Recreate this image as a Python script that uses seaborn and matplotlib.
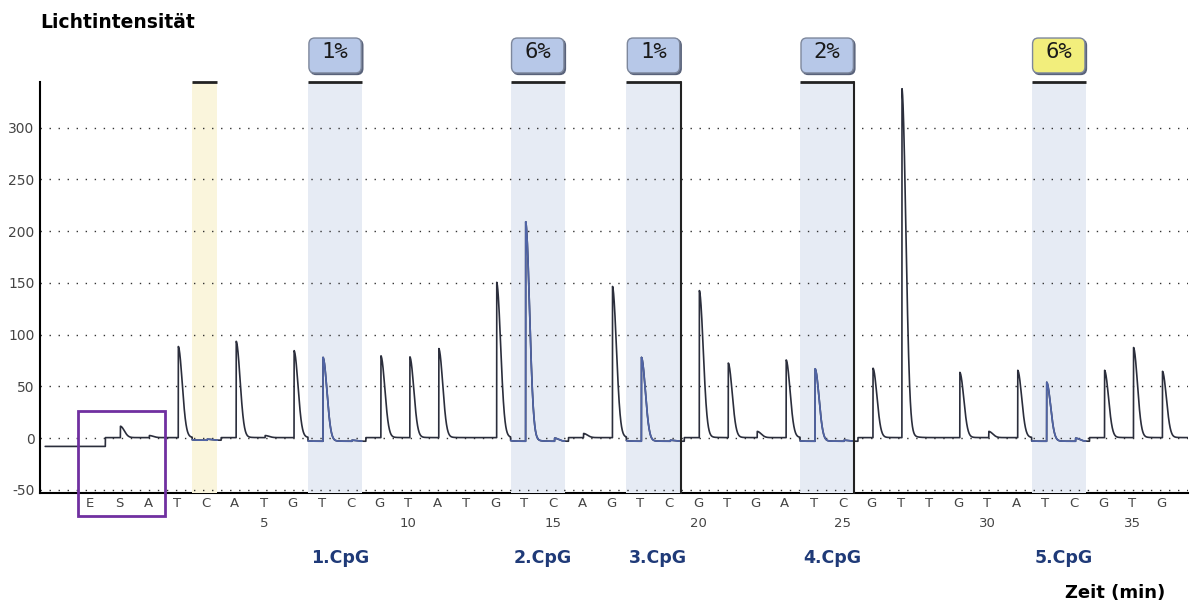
import numpy as np
import matplotlib
matplotlib.use("Agg")
import matplotlib.pyplot as plt
import matplotlib.transforms as mtransforms
from matplotlib.patches import FancyBboxPatch, Rectangle
import seaborn as sns

# ---------------- data ----------------
dispensations = ["E", "S", "A", "T", "C", "A", "T", "G", "T", "C", "G", "T", "A",
                 "T", "G", "T", "C", "A", "G", "T", "C", "G", "T", "G", "A", "T",
                 "C", "G", "T", "T", "G", "T", "A", "T", "C", "G", "T", "G"]
disp_positions = list(range(-1, 37))
peak_heights = [0, 11, 2, 88, 1, 93, 2, 84, 81, 1, 79, 78, 86,
                0, 150, 212, 3, 4, 146, 81, 1, 142, 72, 6, 75, 70,
                1, 67, 337, 0, 63, 6, 65, 57, 3, 65, 87, 64]
baselines = [-8, 0.5, 0.5, 0.5, -2, 0.5, 0.5, 0.5, -3, -3, 0.5, 0.5, 0.5,
             0.5, 0.5, -3, -3, 0.5, 0.5, -3, -3, 0.5, 0.5, 0.5, 0.5, -3,
             -3, 0.5, 0.5, 0.5, 0.5, 0.5, 0.5, -3, -3, 0.5, 0.5, 0.5]
number_ticks = [5, 10, 15, 20, 25, 30, 35]
y_ticks = [-50, 0, 50, 100, 150, 200, 250, 300]

control_pos = 3
cpg_names = ["1.CpG", "2.CpG", "3.CpG", "4.CpG", "5.CpG"]
cpg_start = [7, 14, 18, 24, 32]
cpg_end = [8, 15, 19, 25, 33]
methylation = [1, 6, 1, 2, 6]
badge_colors = ["#b7c8e8", "#b7c8e8", "#b7c8e8", "#b7c8e8", "#f2ee7c"]
bracket_right = [False, False, True, True, False]

# ---------------- figure ----------------
sns.set_style("white")
plt.rcParams["font.family"] = ["DejaVu Sans"]
plt.rcParams["axes.unicode_minus"] = False

fig = plt.figure(figsize=(11.92, 6.10), dpi=100)
ax = fig.add_axes([40 / 1192, 117 / 610, 1148 / 1192, 411 / 610])
ax.set_xlim(-2.73, 36.93)
ax.set_ylim(-53, 344)

blend = mtransforms.blended_transform_factory(ax.transData, ax.transAxes)

L_OFF, R_OFF = 0.47, 0.40

# shaded areas
ax.axvspan(control_pos - L_OFF, control_pos + R_OFF, color="#faf5dc", lw=0, zorder=1)
ax.plot([control_pos - L_OFF, control_pos + R_OFF], [1, 1], transform=blend,
        color="#222222", lw=2, clip_on=False, solid_capstyle="butt", zorder=4)

for s, e, m, bc, br in zip(cpg_start, cpg_end, methylation, badge_colors, bracket_right):
    l, r = s - L_OFF, e + R_OFF
    ax.axvspan(l, r, color="#e6ebf4", lw=0, zorder=1)
    ax.plot([l, r], [1, 1], transform=blend, color="#222222", lw=2,
            clip_on=False, solid_capstyle="butt", zorder=4)
    if br:
        ax.plot([r, r], [0, 1], transform=blend, color="#222222", lw=1.5,
                clip_on=False, zorder=4)
    # badge shadow + badge
    shadow_tr = mtransforms.offset_copy(blend, fig=fig, x=1.5, y=-1.5, units="dots")
    for tr, fc, ec in [(shadow_tr, "#59627a", "#59627a"), (blend, bc, "#7d879c")]:
        p = FancyBboxPatch((l + 0.03, 1.022), (r - l) - 0.06, 0.085,
                           boxstyle="round,pad=0,rounding_size=0.2",
                           mutation_aspect=0.073, transform=tr,
                           facecolor=fc, edgecolor=ec, lw=1, clip_on=False, zorder=5)
        ax.add_patch(p)
    ax.text((l + r) / 2, 1.058, f"{m}%", transform=blend, ha="center", va="baseline",
            family="DejaVu Sans Mono", fontsize=16, color="#1a1a1a", zorder=6,
            clip_on=False)

# dotted grid
for yv in y_ticks:
    ax.axhline(yv, color="#333333", lw=1.0, ls=(0, (1, 5.5)), zorder=1.5)

# ---------------- trace ----------------
x = np.arange(-2.55, 36.93, 0.004)
base = np.full_like(x, float(baselines[0]))
signal = np.zeros_like(x)
for p, h, b in zip(disp_positions, peak_heights, baselines):
    base[x >= p - L_OFF] = b
    d = x - (p + 0.05)
    k = np.where(d >= 0, 0.93 * np.exp(-(np.clip(d, 0, None) / 0.19) ** 2)
                 + 0.07 * np.exp(-np.clip(d, 0, None) / 0.15), 0.0)
    signal += h * k
y = base + signal

sns.lineplot(x=x, y=y, ax=ax, color="#2b2e3c", lw=1.2, zorder=3,
             estimator=None, sort=False)
regions = [(control_pos, control_pos)] + list(zip(cpg_start, cpg_end))
for s, e in regions:
    msk = (x >= s - L_OFF) & (x <= e + R_OFF)
    sns.lineplot(x=x[msk], y=y[msk], ax=ax, color="#5064a6", lw=1.2, zorder=3.2,
                 estimator=None, sort=False)

# ---------------- axes styling ----------------
for sp in ["top", "right"]:
    ax.spines[sp].set_visible(False)
ax.spines["left"].set_color("black")
ax.spines["left"].set_linewidth(1.5)
ax.spines["bottom"].set_color("black")
ax.spines["bottom"].set_linewidth(1.5)
ax.spines["bottom"].set_zorder(0.5)

ax.set_xticks(disp_positions)
ax.set_xticklabels(dispensations)
ax.set_yticks(y_ticks)
ax.tick_params(axis="x", direction="in", length=4, width=1, pad=3,
               labelsize=9.5, labelcolor="#444444", color="#222222")
ax.tick_params(axis="y", direction="out", length=3, width=1, pad=1,
               labelsize=10, labelcolor="#444444", color="#222222")
ax.xaxis.set_zorder(1.6)
ax.set_xlabel("")
ax.set_ylabel("")

for n in number_ticks:
    ax.text(n, -0.0827, str(n), transform=blend, ha="center", va="baseline",
            fontsize=9.5, color="#444444", clip_on=False)

for name, s in zip(cpg_names, cpg_start):
    ax.text(s - L_OFF + 0.1, -0.170, name, transform=blend, ha="left", va="baseline",
            fontsize=12.5, fontweight="bold", color="#1f3a78", clip_on=False)

# purple frame around E S A
ax.add_patch(Rectangle((-1.42, -75.4), 3.01, 101.5, fill=False, edgecolor="#7030a0",
                       lw=2, clip_on=False, zorder=6))

fig.text(40 / 1192, 1 - 27.5 / 610, "Lichtintensität", ha="left", va="baseline",
         fontsize=13.5, fontweight="bold", color="black")
fig.text(1165 / 1192, 1 - 598 / 610, "Zeit (min)", ha="right", va="baseline",
         fontsize=13, fontweight="bold", color="black")

fig.savefig("out.png", dpi=100)
